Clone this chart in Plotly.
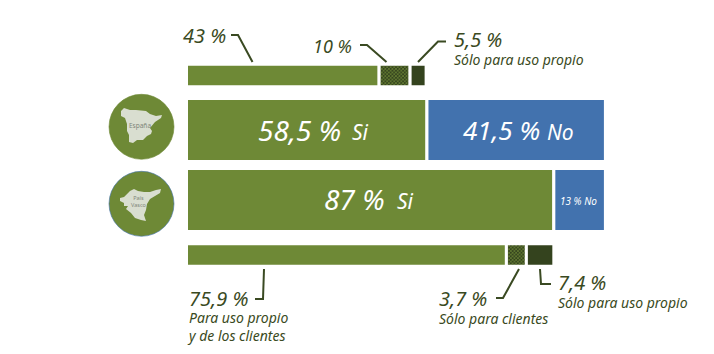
import plotly.graph_objects as go

W, H = 714, 354

# --- Data -----------------------------------------------------------------
rows = ["uso_espana", "espana", "pais_vasco", "uso_pais_vasco"]
# segment lengths as drawn in the picture (% of the full bar width)
uso_espana_lengths = [46.3, 7.45, 3.85]
espana_lengths = [57.8, 42.9]
pais_vasco_lengths = [88.3, 12.4]
uso_pais_vasco_lengths = [76.9, 4.8, 6.6]
# printed texts
top_labels = ["43 %", "10 %", "5,5 %"]
espana_labels = ["58,5 %", "41,5 %"]
pais_vasco_labels = ["87 %", "13 %"]
bottom_labels = ["75,9 %", "3,7 %", "7,4 %"]
answers = ["Si", "No"]
use_names = ["Para uso propio", "y de los clientes", "Sólo para clientes", "Sólo para uso propio"]
region_names = ["España", "País<br>Vasco"]

# --- Style / layout -------------------------------------------------------
OLIVE, DARK, BLUE, INK = "#6e8936", "#34431e", "#4272ae", "#3a4a22"
MAP = "#d9ded0"
FONT = "Noto Sans"
X0, PX = 186.5, 4.16  # left edge of bars (under the white outline) and pixels per unit
CY = dict(zip(rows, [75.5, 130, 200, 255]))
BH = dict(zip(rows, [22.5, 63, 63, 22.5]))
px = lambda x: x / W
py = lambda y: 1 - y / H


def pattern():
    return dict(shape="x", fgcolor=DARK, bgcolor=OLIVE, size=2.5, solidity=0.65, fillmode="replace")


fig = go.Figure()


def add_row(row, lengths, styles):
    base = 0
    for length, st in zip(lengths, styles):
        marker = dict(line=dict(color="white", width=3))
        if st == "hatch":
            marker.update(color=OLIVE, pattern=pattern())
        else:
            marker["color"] = st
        fig.add_bar(x=[length], y=[CY[row]], base=[base], width=[BH[row]], orientation="h",
                    marker=marker, hoverinfo="skip", showlegend=False)
        base += length


add_row("uso_espana", uso_espana_lengths, [OLIVE, "hatch", DARK])
add_row("espana", espana_lengths, [OLIVE, BLUE])
add_row("pais_vasco", pais_vasco_lengths, [OLIVE, BLUE])
add_row("uso_pais_vasco", uso_pais_vasco_lengths, [OLIVE, "hatch", DARK])

annotations, shapes = [], []


def text(x, y, s, size, color=INK):
    annotations.append(dict(x=px(x - 2), y=py(y), xref="paper", yref="paper", text=f"<i>{s}</i>",
                            showarrow=False, xanchor="left", yanchor="middle", borderpad=0,
                            font=dict(family=FONT, size=size, color=color), align="left"))


def labelled(x, y, number, caption):
    """A percentage with its caption below it, as one block of text."""
    text(x, y, f'<span style="font-size:20px">{number}</span><br>{caption}', 14)


def leader(points):
    path = "M " + " L ".join(f"{px(x)} {py(y)}" for x, y in points)
    shapes.append(dict(type="path", path=path, xref="paper", yref="paper",
                       line=dict(color=INK, width=2), layer="above"))


# Top row
text(184, 36, top_labels[0], 20)
text(314, 46, top_labels[1], 18)
labelled(455, 47.5, top_labels[2], use_names[3])
leader([(231, 35), (238, 35), (252.5, 62)])
leader([(360, 45), (367, 45), (386.5, 62)])
leader([(418, 62), (438, 41.5), (446, 41.5)])

# Middle rows
text(259, 130, espana_labels[0], 28, "white")
text(353, 132, answers[0], 21, "white")
text(464, 130, espana_labels[1], 26, "white")
text(548, 132, answers[1], 21, "white")
text(325, 199, pais_vasco_labels[0], 28, "white")
text(398, 201, answers[0], 21, "white")
text(561, 201, pais_vasco_labels[1] + " " + answers[1], 10, "white")

# Bottom row
text(190, 298, bottom_labels[0], 20)
text(188, 326.5, f"{use_names[0]}<br><i>{use_names[1]}</i>", 14)
leader([(264, 269), (263, 299), (255, 299)])
labelled(440, 306.5, bottom_labels[1], use_names[2])
leader([(519, 269), (503, 298), (496, 298)])
labelled(559, 290.5, bottom_labels[2], use_names[3])
leader([(540, 269), (541, 284), (551, 284)])

# Round region badges
for cy, line in ((126.8, OLIVE), (203.8, BLUE)):
    shapes.append(dict(type="circle", xref="paper", yref="paper",
                       x0=px(109), x1=px(174), y0=py(cy - 32.5), y1=py(cy + 32.5),
                       fillcolor=OLIVE, line=dict(color=line, width=0.6), layer="below"))


def blob(points):
    path = "M " + " L ".join(f"{px(x)} {py(y)}" for x, y in points) + " Z"
    shapes.append(dict(type="path", path=path, xref="paper", yref="paper",
                       fillcolor=MAP, line=dict(width=0), layer="above"))


blob([(121, 111), (124, 108), (130, 110), (136, 110), (146, 111), (150, 114), (156, 116), (162, 115),
      (161, 118), (155, 122), (150, 128), (152, 131), (151, 134), (147, 136), (143, 140), (137, 140),
      (133, 143), (129, 142), (129, 135), (127, 131), (127, 124), (125, 118), (121, 116)])
blob([(120, 198), (124, 197), (130, 191), (134, 189), (138, 191), (144, 192), (150, 192),
      (156, 190), (161, 189), (160, 193), (155, 196), (150, 199), (147, 204), (146, 210), (144, 215),
      (146, 221), (141, 220), (135, 218), (131, 213), (126, 209), (128, 206), (124, 206), (124, 203), (120, 201)])
annotations.append(dict(x=px(140), y=py(125.5), xref="paper", yref="paper", text=region_names[0], showarrow=False,
                        xanchor="center", yanchor="middle",
                        font=dict(family=FONT, size=6.5, color="#7f867a")))
annotations.append(dict(x=px(139), y=py(201), xref="paper", yref="paper", text=region_names[1], showarrow=False,
                        xanchor="center", yanchor="middle",
                        font=dict(family=FONT, size=5.5, color="#7f867a")))

fig.update_layout(
    width=W, height=H, margin=dict(l=0, r=0, t=0, b=0), barmode="overlay",
    paper_bgcolor="white", plot_bgcolor="white",
    xaxis=dict(range=[-X0 / PX, (W - X0) / PX], visible=False, fixedrange=True),
    yaxis=dict(range=[H, 0], visible=False, fixedrange=True),
    shapes=shapes, annotations=annotations,
)
fig.write_html("out.html", config=dict(displayModeBar=False),
               post_script="document.body.style.margin='0';document.body.style.overflow='hidden';")
